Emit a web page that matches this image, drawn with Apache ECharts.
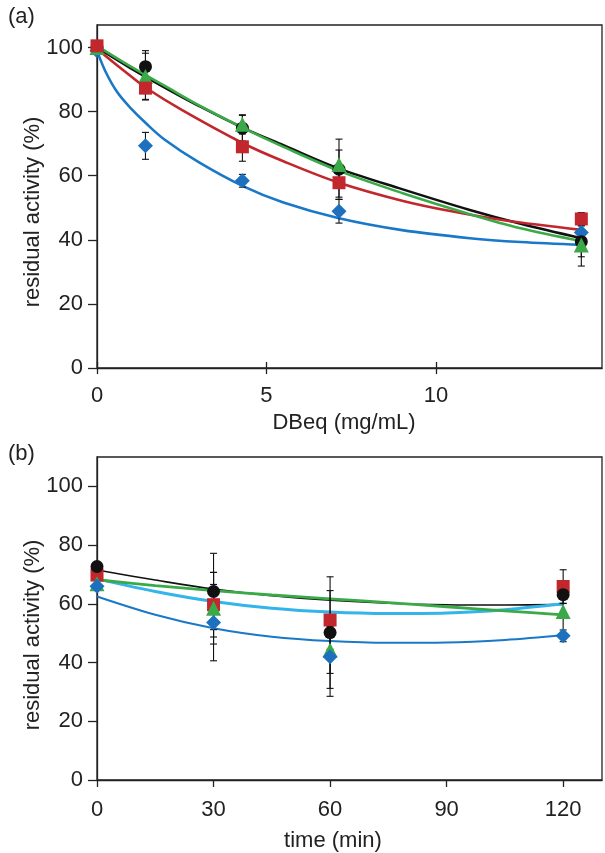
<!DOCTYPE html>
<html>
<head>
<meta charset="utf-8">
<script src="https://cdn.jsdelivr.net/npm/echarts@6/dist/echarts.min.js"></script>
<style>
html,body{margin:0;padding:0;background:#fff;}
#c{width:605px;height:853px;}
</style>
</head>
<body>
<div id="c"></div>
<script>
// ---------- Panel (a): DBeq (mg/mL) ----------
const xA = [0, 1.43, 4.29, 7.14, 14.29];
const aBlack = [100, 94.0, 74.8, 62.0, 39.4];
const aRed   = [100.5, 87.3, 69.0, 57.8, 46.5];
const aGreen = [100, 90.9, 76.0, 63.5, 38.4];
const aBlue  = [99, 69.3, 58.4, 48.9, 42.3];
const aBlackErr = [0, 5, 4, 9.4, 7.6];
const aRedErr   = [0, 3.5, 4.5, 4.5, 2];
const aGreenErr = [0, 7.3, 3, 4.5, 3.7];
const aBlueErr  = [0, 4.2, 2, 3.7, 2];
// fitted curves
const aBlackCurveX = [0, 1, 2, 3, 4.29, 5.5, 7.14, 9, 11, 12.5, 14.29];
const aBlackCurveY = [100, 93.5, 87.5, 81.8, 75.0, 69.5, 62.2, 55.8, 49.3, 45.0, 40.5];
const aGreenCurveX = [0, 1, 2, 3, 4.29, 5.5, 7.14, 9, 11, 12.5, 14.29];
const aGreenCurveY = [100.5, 94.0, 88.0, 82.0, 75.0, 69.0, 61.5, 54.6, 48.0, 43.6, 39.6];
const aRedCurveX = [0, 1, 1.43, 2.5, 4.29, 5.5, 7.14, 9, 10.5, 12, 14.29];
const aRedCurveY = [99.5, 91.0, 87.5, 80.5, 70.2, 64.5, 57.8, 52.2, 48.8, 46.1, 43.1];
const aBlueCurveX = [0, 0.25, 0.6, 1.0, 1.43, 2, 3, 4.29, 5.5, 7.14, 9, 11, 12.5, 14.29];
const aBlueCurveY = [99, 92.5, 86, 81, 76.5, 71.2, 64.2, 56.8, 51.6, 46.7, 43, 40.5, 39.3, 38.4];

// ---------- Panel (b): time (min) ----------
const xB = [0, 30, 60, 120];
const bBlack = [72.7, 64.2, 50.2, 63.1];
const bRed   = [69.8, 59.7, 54.5, 65.9];
const bGreen = [66.8, 58.5, 44.3, 57.4];
const bBlue  = [66.0, 53.6, 42.0, 49.1];
const bBlackErr = [0, 13, 19, 3];
const bRedErr   = [0, 11, 10, 5.7];
const bGreenErr = [0, 12.2, 8, 9];
const bBlueErr  = [0, 13, 13.5, 2];
const bCurveX = [0, 15, 30, 45, 60, 75, 90, 105, 120];
const bBlackCurveY = [71.5, 68.1, 65.0, 62.8, 61.2, 60.2, 59.7, 59.6, 59.8];
const bGreenCurveY = [68.2, 66.2, 64.5, 63.0, 61.7, 60.4, 59.0, 57.6, 56.2];
const bCyanCurveY  = [68.5, 64.2, 60.8, 58.5, 57.2, 56.7, 56.9, 58.0, 60.0];
const bBlueCurveY  = [62.5, 56.3, 51.7, 48.8, 47.3, 46.7, 46.8, 47.7, 49.4];

const yTicks = [0, 20, 40, 60, 80, 100];
const xTicksA = [0, 5, 10];
const xTicksB = [0, 30, 60, 90, 120];

const C = {black:'#111111', red:'#c1272d', green:'#3aaa48', blue:'#1c70be', blueLine:'#1a78c8', cyan:'#33b4ea'};
const FONT = '"Liberation Sans", Arial, Helvetica, sans-serif';

function zip(xs, ys){ return xs.map((x,i)=>[x, ys[i]]); }
function zip3(xs, ys, es){ return xs.map((x,i)=>[x, ys[i], es[i]]).filter(d=>d[2]>0); }

function errRender(params, api){
  const x = api.value(0), y = api.value(1), e = api.value(2);
  const t = api.coord([x, y+e]), b = api.coord([x, y-e]);
  const hw = 3.5;
  const st = {stroke:'#111', lineWidth:1.1};
  return {type:'group', children:[
    {type:'line', shape:{x1:t[0],y1:t[1],x2:b[0],y2:b[1]}, style:st},
    {type:'line', shape:{x1:t[0]-hw,y1:t[1],x2:t[0]+hw,y2:t[1]}, style:st},
    {type:'line', shape:{x1:b[0]-hw,y1:b[1],x2:b[0]+hw,y2:b[1]}, style:st}
  ]};
}

function curve(xi, yi, xs, ys, color, w){
  return {type:'line', xAxisIndex:xi, yAxisIndex:yi, data:zip(xs, ys), smooth:0.35,
    showSymbol:false, symbol:'none', silent:true, z:2,
    lineStyle:{color:color, width:w}};
}
function err(xi, yi, xs, ys, es){
  return {type:'custom', xAxisIndex:xi, yAxisIndex:yi, data:zip3(xs, ys, es),
    renderItem:errRender, z:3, silent:true};
}
function pts(xi, yi, xs, ys, symbol, size, color){
  return {type:'scatter', xAxisIndex:xi, yAxisIndex:yi, data:zip(xs, ys), symbol:symbol,
    symbolSize:size, itemStyle:{color:color, opacity:1}, z:4, silent:true};
}

const axisLineStyle = {color:'#222', width:1.3};
const labelStyle = {color:'#222', fontSize:22, fontFamily:FONT};

const option = {
  animation:false,
  backgroundColor:'#fff',
  grid:[
    {left:97, top:25, width:505, height:343, show:true, borderColor:'#222', borderWidth:1.3, backgroundColor:'transparent'},
    {left:97, top:457, width:505, height:323, show:true, borderColor:'#222', borderWidth:1.3, backgroundColor:'transparent'}
  ],
  xAxis:[
    {type:'value', gridIndex:0, min:0, max:14.9, splitLine:{show:false},
      axisLine:{lineStyle:axisLineStyle, onZero:false},
      axisTick:{show:true, inside:false, length:6, customValues:xTicksA, lineStyle:axisLineStyle},
      axisLabel:{customValues:xTicksA, margin:17, ...labelStyle}},
    {type:'value', gridIndex:0, min:0, max:14.9, position:'bottom', splitLine:{show:false},
      axisLine:{show:false, onZero:false},
      axisTick:{show:true, inside:true, length:6, customValues:xTicksA, lineStyle:axisLineStyle},
      axisLabel:{show:false}},
    {type:'value', gridIndex:1, min:0, max:130, splitLine:{show:false},
      axisLine:{lineStyle:axisLineStyle, onZero:false},
      axisTick:{show:true, inside:false, length:7, customValues:xTicksB, lineStyle:axisLineStyle},
      axisLabel:{customValues:xTicksB, margin:19, ...labelStyle}}
  ],
  yAxis:[
    {type:'value', gridIndex:0, min:0, max:107, splitLine:{show:false},
      axisLine:{lineStyle:axisLineStyle, onZero:false},
      axisTick:{show:true, inside:false, length:9, customValues:yTicks, lineStyle:axisLineStyle},
      axisLabel:{customValues:yTicks, margin:14, ...labelStyle}},
    {type:'value', gridIndex:1, min:0, max:110, splitLine:{show:false},
      axisLine:{lineStyle:axisLineStyle, onZero:false},
      axisTick:{show:true, inside:false, length:9, customValues:yTicks, lineStyle:axisLineStyle},
      axisLabel:{customValues:yTicks, margin:14, ...labelStyle}}
  ],
  graphic:[
    {type:'text', left:8, top:6, style:{text:'(a)', font:'22px '+FONT, fill:'#222'}},
    {type:'text', left:8, top:443, style:{text:'(b)', font:'22px '+FONT, fill:'#222'}},
    {type:'text', x:33, y:212, rotation:Math.PI/2,
      style:{text:'residual activity (%)', font:'22px '+FONT, fill:'#222', align:'center', verticalAlign:'middle', textAlign:'center', textVerticalAlign:'middle'}},
    {type:'text', x:33, y:635, rotation:Math.PI/2,
      style:{text:'residual activity (%)', font:'22px '+FONT, fill:'#222', align:'center', verticalAlign:'middle', textAlign:'center', textVerticalAlign:'middle'}},
    {type:'text', x:344, y:423,
      style:{text:'DBeq (mg/mL)', font:'22px '+FONT, fill:'#222', align:'center', verticalAlign:'middle', textAlign:'center', textVerticalAlign:'middle'}},
    {type:'text', x:333, y:841,
      style:{text:'time (min)', font:'22px '+FONT, fill:'#222', align:'center', verticalAlign:'middle', textAlign:'center', textVerticalAlign:'middle'}}
  ],
  series:[
    // panel (a) curves
    curve(0,0, aBlackCurveX, aBlackCurveY, C.black, 2.6),
    curve(0,0, aRedCurveX, aRedCurveY, C.red, 2.6),
    curve(0,0, aBlueCurveX, aBlueCurveY, C.blueLine, 2.6),
    curve(0,0, aGreenCurveX, aGreenCurveY, C.green, 2.6),
    // panel (a) error bars
    err(0,0, xA, aBlack, aBlackErr),
    err(0,0, xA, aRed, aRedErr),
    err(0,0, xA, aGreen, aGreenErr),
    err(0,0, xA, aBlue, aBlueErr),
    // panel (a) markers
    pts(0,0, xA, aBlue, 'diamond', 15, C.blue),
    pts(0,0, xA, aBlack, 'circle', 13, C.black),
    pts(0,0, xA, aGreen, 'triangle', 15, C.green),
    pts(0,0, xA, aRed, 'rect', 13, C.red),
    // panel (b) curves
    curve(2,1, bCurveX, bBlackCurveY, C.black, 1.6),
    curve(2,1, bCurveX, bBlueCurveY, C.blueLine, 2.0),
    curve(2,1, bCurveX, bCyanCurveY, C.cyan, 3.0),
    curve(2,1, bCurveX, bGreenCurveY, C.green, 2.8),
    // panel (b) error bars
    err(2,1, xB, bBlack, bBlackErr),
    err(2,1, xB, bRed, bRedErr),
    err(2,1, xB, bGreen, bGreenErr),
    err(2,1, xB, bBlue, bBlueErr),
    // panel (b) markers
    pts(2,1, xB, bRed, 'rect', 13, C.red),
    pts(2,1, xB, bBlack, 'circle', 13, C.black),
    pts(2,1, xB, bGreen, 'triangle', 15, C.green),
    pts(2,1, xB, bBlue, 'diamond', 15, C.blue)
  ]
};
const chart = echarts.init(document.getElementById('c'), null, {renderer:'canvas'});
chart.setOption(option);
</script>
</body>
</html>
